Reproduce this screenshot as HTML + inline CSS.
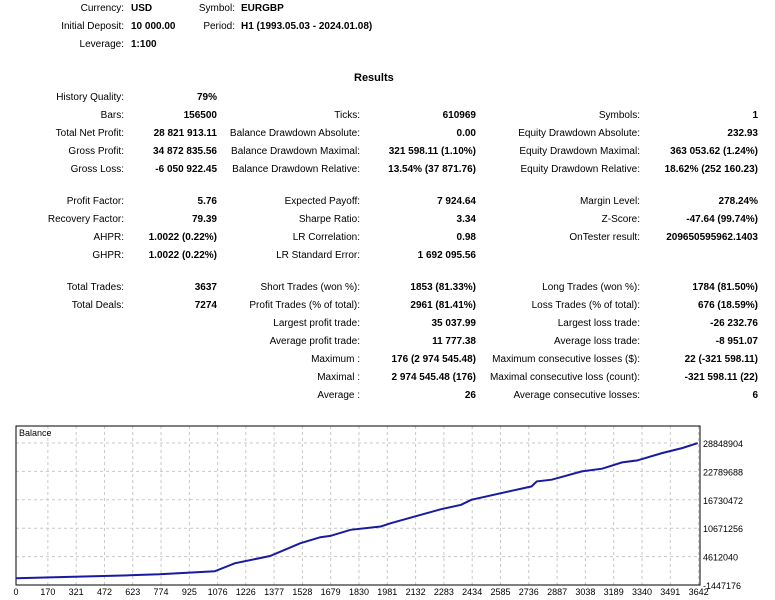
<!DOCTYPE html>
<html><head><meta charset="utf-8"><style>
body{margin:0;width:775px;height:600px;background:#fff;font-family:"Liberation Sans",sans-serif;font-size:10px;color:#000;position:relative;overflow:hidden}
.t{position:absolute;white-space:nowrap;line-height:12px}
.l{text-align:right}
.v{font-weight:bold}
</style></head><body>
<div id="stats"></div>
<svg id="chart" width="775" height="600" style="position:absolute;left:0;top:0"></svg>
<script>
const rows=[
 // [y, labelRight, text, isValue]
 [9,124,"Currency:",0],[9,131,"USD",1,"L"],[9,235,"Symbol:",0],[9,241,"EURGBP",1,"L"],
 [27,124,"Initial Deposit:",0],[27,131,"10 000.00",1,"L"],[27,235,"Period:",0],[27,241,"H1 (1993.05.03 - 2024.01.08)",1,"L"],
 [45,124,"Leverage:",0],[45,131,"1:100",1,"L"],
 [98,124,"History Quality:",0],[98,217,"79%",1],
 [116,124,"Bars:",0],[116,217,"156500",1],[116,360,"Ticks:",0],[116,476,"610969",1],[116,640,"Symbols:",0],[116,758,"1",1],
 [134,124,"Total Net Profit:",0],[134,217,"28 821 913.11",1],[134,360,"Balance Drawdown Absolute:",0],[134,476,"0.00",1],[134,640,"Equity Drawdown Absolute:",0],[134,758,"232.93",1],
 [152,124,"Gross Profit:",0],[152,217,"34 872 835.56",1],[152,360,"Balance Drawdown Maximal:",0],[152,476,"321 598.11 (1.10%)",1],[152,640,"Equity Drawdown Maximal:",0],[152,758,"363 053.62 (1.24%)",1],
 [170,124,"Gross Loss:",0],[170,217,"-6 050 922.45",1],[170,360,"Balance Drawdown Relative:",0],[170,476,"13.54% (37 871.76)",1],[170,640,"Equity Drawdown Relative:",0],[170,758,"18.62% (252 160.23)",1],
 [202,124,"Profit Factor:",0],[202,217,"5.76",1],[202,360,"Expected Payoff:",0],[202,476,"7 924.64",1],[202,640,"Margin Level:",0],[202,758,"278.24%",1],
 [220,124,"Recovery Factor:",0],[220,217,"79.39",1],[220,360,"Sharpe Ratio:",0],[220,476,"3.34",1],[220,640,"Z-Score:",0],[220,758,"-47.64 (99.74%)",1],
 [238,124,"AHPR:",0],[238,217,"1.0022 (0.22%)",1],[238,360,"LR Correlation:",0],[238,476,"0.98",1],[238,640,"OnTester result:",0],[238,758,"209650595962.1403",1],
 [256,124,"GHPR:",0],[256,217,"1.0022 (0.22%)",1],[256,360,"LR Standard Error:",0],[256,476,"1 692 095.56",1],
 [288,124,"Total Trades:",0],[288,217,"3637",1],[288,360,"Short Trades (won %):",0],[288,476,"1853 (81.33%)",1],[288,640,"Long Trades (won %):",0],[288,758,"1784 (81.50%)",1],
 [306,124,"Total Deals:",0],[306,217,"7274",1],[306,360,"Profit Trades (% of total):",0],[306,476,"2961 (81.41%)",1],[306,640,"Loss Trades (% of total):",0],[306,758,"676 (18.59%)",1],
 [324,360,"Largest profit trade:",0],[324,476,"35 037.99",1],[324,640,"Largest loss trade:",0],[324,758,"-26 232.76",1],
 [342,360,"Average profit trade:",0],[342,476,"11 777.38",1],[342,640,"Average loss trade:",0],[342,758,"-8 951.07",1],
 [360,360,"Maximum :",0],[360,476,"176 (2 974 545.48)",1],[360,640,"Maximum consecutive losses ($):",0],[360,758,"22 (-321 598.11)",1],
 [378,360,"Maximal :",0],[378,476,"2 974 545.48 (176)",1],[378,640,"Maximal consecutive loss (count):",0],[378,758,"-321 598.11 (22)",1],
 [396,360,"Average :",0],[396,476,"26",1],[396,640,"Average consecutive losses:",0],[396,758,"6",1]
];
const st=document.getElementById('stats');
rows.forEach(r=>{
 const d=document.createElement('div');
 d.className='t'+(r[3]?' v':'');
 d.textContent=r[2];
 d.style.top=(r[0]-6)+'px';
 if(r[4]==='L'){d.style.left=r[1]+'px';}else{d.style.right=(775-r[1])+'px';}
 
 
 st.appendChild(d);
});
const h=document.createElement('div');
h.className='t v';h.style.top='72px';h.style.left='354px';h.style.fontSize='11px';h.textContent='Results';


st.appendChild(h);
</script>
<script>
const trades=[0,309,604,765,926,1060,1167,1355,1516,1624,1677,1785,1946,2000,2160,2268,2375,2429,2644,2751,2778,2858,3019,3127,3234,3315,3449,3556,3637];
const balance=[10000,300000,620000,834000,1190000,1480000,3190000,4750000,7460000,8750000,9030000,10320000,11030000,11740000,13520000,14730000,15660000,16730000,18660000,19580000,20650000,21010000,22790000,23360000,24720000,25140000,26710000,27780000,28830000];
const yTicks=[-1447176,4612040,10671256,16730472,22789688,28848904];
const xTicks=[0,170,321,472,623,774,925,1076,1226,1377,1528,1679,1830,1981,2132,2283,2434,2585,2736,2887,3038,3189,3340,3491,3642];
const L=16,R=700,T=426,B=585;
const X=t=>L+t*(682.6/3642);
const Y=v=>B-(v-yTicks[0])/(yTicks[5]-yTicks[0])*(B-443);
const svg=document.getElementById('chart');const NS='http://www.w3.org/2000/svg';
function mk(tag,at){const e=document.createElementNS(NS,tag);for(const k in at)e.setAttribute(k,at[k]);svg.appendChild(e);return e;}
yTicks.forEach(v=>{
 const g=mk('line',{x1:L,x2:R,y1:Y(v),y2:Y(v),stroke:'#c8c8c8','stroke-dasharray':'3,3'});
 
 
 const t=mk('text',{x:R+3,y:Y(v)+4,'font-size':'9','font-family':'Liberation Sans, sans-serif'});
 t.textContent=v;
 
 
});
xTicks.forEach(v=>{
 const g=mk('line',{x1:X(v),x2:X(v),y1:T,y2:B,stroke:'#c8c8c8','stroke-dasharray':'3,3'});
 
 
 const t=mk('text',{x:X(v),y:595,'font-size':'9','text-anchor':'middle','font-family':'Liberation Sans, sans-serif'});
 t.textContent=v;
 
 
});
const fr=mk('rect',{x:L,y:T,width:R-L,height:B-T,fill:'none',stroke:'#000'});


const lb=mk('text',{x:L+3,y:T+10,'font-size':'9','font-family':'Liberation Sans, sans-serif'});
lb.textContent='Balance';


const pts=trades.map((t,i)=>X(t).toFixed(1)+','+Y(balance[i]).toFixed(1)).join(' ');
const pl=mk('polyline',{points:pts,fill:'none',stroke:'#1a1aa0','stroke-width':'2'});


</script>
</body></html>
